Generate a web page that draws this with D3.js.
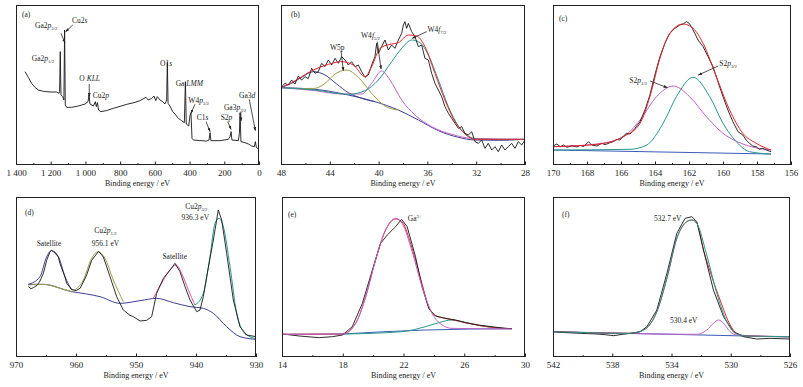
<!DOCTYPE html>
<html>
<head>
<meta charset="utf-8">
<script src="https://cdn.jsdelivr.net/npm/d3@7"></script>
<style>
  body { margin: 0; background: #fff; }
  text { font-family: "Liberation Serif", "Times New Roman", serif; fill: #222; }
</style>
</head>
<body>
<svg id="chart" width="803" height="387"></svg>
<script>
// ---- data (binding energy in eV, intensity in arbitrary units) ----

// (a) survey
var surveyA = [[1348,280],[1329,263],[1310,245],[1291,233],[1271,225],[1242,221],[1204,219],[1166,219],[1152,215],[1149,220],[1145,340],[1141,210],[1131,205],[1124,195],[1120,405],[1116,180],[1108,173],[1079,173],[1041,177],[1002,183],[985,190],[979,210],[974,183],[954,177],[943,190],[937,175],[931,187],[924,165],[912,160],[880,163],[839,170],[800,176],[762,182],[720,187],[686,193],[651,203],[638,195],[618,200],[605,207],[595,193],[586,205],[570,195],[555,190],[542,183],[532,195],[528,308],[524,185],[513,177],[497,160],[484,153],[465,140],[446,133],[430,127],[424,250],[419,123],[405,117],[397,150],[392,157],[386,80],[378,75],[340,73],[301,72],[288,75],[282,97],[277,73],[225,73],[177,77],[167,85],[161,100],[156,75],[119,73],[113,95],[109,157],[104,70],[81,67],[61,63],[42,57],[27,55],[21,70],[15,52],[0,48]];

// (b) W 4f / W 5p
var dataB = [[48.00,233],[47.67,245],[47.40,240],[47.13,255],[46.85,243],[46.58,267],[46.31,255],[46.03,265],[45.76,259],[45.49,290],[45.21,275],[44.94,280],[44.67,305],[44.39,295],[44.12,315],[43.85,300],[43.57,320],[43.30,305],[43.03,325],[42.75,315],[42.48,300],[42.21,310],[41.93,295],[41.66,300],[41.39,280],[41.11,263],[40.84,270],[40.57,300],[40.30,325],[40.16,365],[40.02,335],[39.75,355],[39.48,375],[39.20,345],[38.93,360],[38.66,350],[38.38,375],[38.11,395],[37.97,420],[37.84,430],[37.70,410],[37.56,425],[37.29,400],[37.02,385],[36.74,355],[36.47,360],[36.20,320],[35.92,315],[35.65,275],[35.38,245],[35.10,225],[34.83,205],[34.56,175],[34.28,155],[34.01,140],[33.74,125],[33.46,110],[33.19,115],[32.92,95],[32.64,90],[32.37,100],[32.10,70],[31.83,65],[31.55,75],[31.28,50],[31.01,65],[30.73,45],[30.46,55],[30.19,40],[29.91,60],[29.64,45],[29.37,55],[29.09,65],[28.82,50],[28.55,70],[28.27,60],[28.00,75]];
var envB = [[48,232],[47.13,247],[45.35,285],[44.12,302],[43.03,310],[42.07,300],[41.11,265],[40.57,295],[39.89,350],[39.07,362],[38.38,367],[37.56,390],[36.88,387],[36.20,355],[35.38,275],[34.56,195],[33.74,130],[32.92,93],[32.10,77],[28.00,77]];
var backB = [[48,232],[45.21,227],[42.48,210],[40.30,190],[38.38,165],[36.74,135],[35.10,103],[33.46,83],[32.10,75],[30.19,74],[28.00,77]];
var w5p32B = [[48,233],[47.13,245],[46.31,263],[45.35,280],[44.39,270],[43.44,243],[42.48,217],[41.39,200],[40.30,190]];
var w5pB = [[46.58,229],[45.21,230],[44.39,245],[43.57,273],[42.62,285],[41.66,263],[40.57,215],[39.48,177],[38.38,165]];
var w4f52B = [[48,232],[45.21,223],[43.03,213],[41.39,213],[40.57,245],[39.75,282],[39.07,255],[38.11,195],[37.02,150],[35.65,115],[34.01,92],[32.37,80],[28.00,77]];
var w4f72B = [[48,232],[45.21,225],[42.48,212],[41.11,223],[40.02,255],[38.93,310],[38.11,350],[37.29,375],[36.61,367],[35.92,330],[35.10,255],[34.28,175],[33.46,117],[32.64,87],[31.83,77],[28.00,77]];

// (c) S 2p
var dataC = [[170.00,57],[169.77,63],[169.57,55],[169.38,60],[169.18,53],[168.89,58],[168.59,54],[168.40,59],[168.20,55],[167.91,70],[167.72,60],[167.42,57],[167.13,65],[166.93,61],[166.64,67],[166.45,70],[166.25,77],[166.06,75],[165.86,87],[165.67,95],[165.47,93],[165.18,110],[164.88,130],[164.59,165],[164.30,210],[164.01,270],[163.71,325],[163.42,365],[163.13,395],[162.83,410],[162.54,420],[162.35,423],[162.15,430],[161.99,425],[161.86,415],[161.66,395],[161.47,375],[161.17,355],[160.88,325],[160.59,295],[160.30,250],[160.00,205],[159.71,165],[159.42,130],[159.12,100],[158.83,90],[158.64,75],[158.44,65],[158.25,57],[158.05,55],[157.86,47],[157.66,50],[157.46,45],[157.17,40]];
var envC = [[170,55],[167.42,62],[165.86,85],[164.88,125],[164.30,205],[163.71,320],[163.13,395],[162.35,423],[161.76,410],[161.17,365],[160.39,265],[159.61,165],[158.83,95],[158.05,65],[157.17,45]];
var backC = [[170,45],[157.17,33]];
var s2p32C = [[170,45],[165.47,47],[164.49,60],[163.52,125],[162.74,205],[161.76,263],[160.78,205],[160.00,125],[159.22,70],[158.44,40],[157.17,33]];
var s2p12C = [[170,55],[167.42,63],[165.86,85],[164.88,135],[163.91,205],[162.93,237],[161.96,205],[160.98,145],[160.00,95],[158.83,63],[157.17,45]];

// (d) Cu 2p
var dataD = [[967.94,211],[967.5,205],[967.11,208],[966.5,215],[966.0,228],[965.44,251],[964.89,290],[964.33,316],[964.06,320],[963.5,312],[962.94,300],[962.67,280],[961.83,240],[961.56,221],[960.72,203],[960.0,199],[959.33,206],[958.78,225],[958.22,246],[957.39,290],[956.28,316],[956.0,312],[955.44,300],[954.33,241],[953.22,181],[952.11,141],[951.0,125],[950.44,121],[949.33,108],[948.22,110],[947.39,121],[946.56,191],[945.44,236],[944.33,261],[943.5,281],[942.67,256],[941.83,211],[941.0,171],[939.89,136],[939.33,141],[938.78,181],[938.22,241],[937.11,351],[936.28,441],[935.72,411],[934.89,311],[933.78,171],[932.67,91],[931.56,66],[930.0,61]];
var backD = [[967.94,218],[965.44,218],[960.72,196],[958.22,189],[956.0,181],[952.67,161],[949.33,169],[946.56,176],[943.78,163],[941.0,151],[938.78,146],[937.11,131],[934.89,91],[932.67,61],[930.0,53]];
var backOliveD = [[967.94,216],[965.44,218],[962.67,206],[960.72,196]];
var sat1D = [[967.94,218],[966.0,241],[964.89,301],[964.06,319],[962.94,301],[961.83,241],[960.72,201]];
var cu2p12D = [[960.72,196],[958.78,231],[957.39,296],[956.28,316],[955.17,296],[953.78,231],[952.11,166]];
var sat2D = [[947.11,176],[945.44,231],[944.33,261],[943.33,276],[942.39,251],[941.28,201],[940.17,156]];
var cu2p32D = [[940.17,156],[938.78,191],[937.67,301],[936.83,401],[936.17,416],[935.44,391],[934.33,271],[933.22,131],[932.11,76],[931.0,61],[930.0,55]];

// (e) Ga 3d
var dataE = [[14.04,69],[15.14,63],[16.45,58],[17.32,61],[17.98,66],[18.63,91],[19.29,161],[19.95,261],[20.49,341],[20.93,366],[21.48,391],[21.87,413],[22.24,391],[22.79,301],[23.22,211],[23.66,146],[24.10,123],[24.75,116],[25.41,111],[26.07,103],[26.94,96],[27.81,91],[28.69,86],[29.13,85]];
var envE = [[14.04,68],[17.98,69],[18.85,101],[19.51,181],[20.16,291],[20.82,381],[21.48,414],[21.91,405],[22.57,325],[23.22,220],[23.66,150],[24.10,125],[24.75,116],[25.41,110],[26.07,103],[26.94,95],[27.81,89],[29.13,85]];
var ga3E = [[14.04,68],[17.98,69],[18.85,101],[19.51,181],[20.16,291],[20.82,381],[21.48,416],[21.91,401],[22.57,316],[23.22,211],[23.88,131],[24.54,96],[25.19,86],[29.13,84]];
var shoulderE = [[14.04,68],[17.98,69],[21.91,76],[23.44,91],[24.32,103],[25.19,111],[26.07,104],[27.16,93],[28.25,87],[29.13,85]];
var backE = [[17.98,69],[23.44,81],[29.13,85]];

// (f) O 1s
var dataF = [[542.00,76],[541.1,73],[540.16,71],[539.6,70],[539.03,69],[538.5,67],[537.91,64],[537.3,68],[536.79,71],[536.11,76],[535.66,91],[534.99,141],[534.31,251],[533.64,371],[533.08,416],[532.63,421],[532.29,406],[531.84,321],[531.17,201],[530.49,121],[529.82,76],[529.15,61],[528.25,54],[527.35,56],[526.00,54]];
var envF = [[542,76],[536.79,71],[535.89,81],[534.99,136],[534.31,236],[533.64,356],[532.97,406],[532.63,411],[532.29,401],[531.84,321],[531.28,241],[530.72,171],[530.04,96],[529.60,71],[528.92,63],[526,61]];
var o532F = [[542,76],[536.79,71],[535.89,81],[534.99,136],[534.31,236],[533.64,356],[532.97,406],[532.63,411],[532.29,401],[531.62,306],[530.94,191],[530.27,106],[529.60,69],[528.92,63],[526,61]];
var o530F = [[542,76],[532.29,68],[531.62,81],[531.17,101],[530.83,111],[530.49,101],[530.04,76],[529.60,66],[526,61]];
var backF = [[542,76],[526,60]];

// tick values
var ticksA = [1400, 1200, 1000, 800, 600, 400, 200, 0];
var ticksB = [48, 44, 40, 36, 32, 28];
var ticksC = [170, 168, 166, 164, 162, 160, 158, 156];
var ticksD = [970, 960, 950, 940, 930];
var ticksE = [14, 18, 22, 26, 30];
var ticksF = [542, 538, 534, 530, 526];

// annotations: text parts, energy, intensity
var I = "i", SUB = "sub", SUP = "sup";
var labelsA = [
  {t: [["Ga2"], ["p", I], ["3/2", SUB]], e: 1290, v: 411},
  {t: [["Cu2"], ["s", I]], e: 1077, v: 426},
  {t: [["Ga2"], ["p", I], ["1/2", SUB]], e: 1309, v: 312},
  {t: [["O "], ["KLL", I]], e: 1035, v: 252},
  {t: [["Cu2"], ["p", I]], e: 958, v: 200},
  {t: [["O1"], ["s", I]], e: 570, v: 298},
  {t: [["Ga "], ["LMM", I]], e: 480, v: 237},
  {t: [["W4"], ["p", I], ["3/2", SUB]], e: 407, v: 187},
  {t: [["C1"], ["s", I]], e: 359, v: 135},
  {t: [["S2"], ["p", I]], e: 221, v: 135},
  {t: [["Ga3"], ["p", I], ["3/2", SUB]], e: 202, v: 165},
  {t: [["Ga3"], ["d", I]], e: 115, v: 202}
];
var arrowsA = [[1073, 420, 1114, 400], [1141, 395, 1118, 367], [978, 243, 978, 205], [369, 182, 392, 155], [305, 130, 282, 100], [180, 130, 161, 107], [104, 159, 104, 132], [56, 197, 21, 103]];
var labelsB = [
  {t: [["W5p"]], e: 43.98, v: 346},
  {t: [["W4"], ["f", I], ["5/2", SUB]], e: 41.44, v: 381},
  {t: [["W4"], ["f", I], ["7/2", SUB]], e: 36.0, v: 398}
];
var arrowsB = [[43.08, 343, 42.89, 283], [40.11, 370, 39.80, 288], [36.06, 400, 37.24, 380]];
var labelsC = [
  {t: [["S2"], ["p", I], ["1/2", SUB]], e: 165.51, v: 246},
  {t: [["S2"], ["p", I], ["3/2", SUB]], e: 160.22, v: 296}
];
var arrowsC = [[164.29, 252, 163.28, 232], [160.28, 297, 161.45, 270]];
var labelsD = [
  {t: [["Satellite"]], e: 966.55, v: 334},
  {t: [["Cu2"], ["p", I], ["1/2", SUB]], e: 956.95, v: 372},
  {t: [["956.1 eV"]], e: 957.39, v: 333},
  {t: [["Satellite"]], e: 945.6, v: 294},
  {t: [["Cu2"], ["p", I], ["3/2", SUB]], e: 941.8, v: 444},
  {t: [["936.3 eV"]], e: 942.4, v: 412}
];
var labelsE = [
  {t: [["Ga"], ["3+", SUP]], e: 22.28, v: 408}
];
var labelsF = [
  {t: [["532.7 eV"]], e: 535.18, v: 408},
  {t: [["530.4 eV"]], e: 534.1, v: 102}
];

// ---- drawing ----
var col = {data: "#161616", env: "#e3262b", teal: "#28988e", mag: "#c162c8", olive: "#9d9c4a",
           navy: "#3c3f93", blue: "#3a5cba", pink: "#e2559c"};

var svg = d3.select("#chart");
var defs = svg.append("defs");
defs.append("marker").attr("id", "arr")
  .attr("viewBox", "0 0 10 10").attr("refX", 9).attr("refY", 5)
  .attr("markerWidth", 5).attr("markerHeight", 5).attr("orient", "auto")
  .append("path").attr("d", "M0,1.5 L10,5 L0,8.5 Z").attr("fill", "#222");

var fmtA = function(d) { return d >= 1000 ? d3.format("d")(d).replace(/(\d)(\d{3})$/, "$1 $2") : d; };

// layout: frame box and where the panel letter sits (absolute baseline)
var panels = [
  {name: "(a)", x0: 16, x1: 259, y0: 5, y1: 165, dom: [1400, 0], ticks: ticksA, minor: 100, fmt: fmtA, lx: 22, ly: 16.5,
   series: [{d: surveyA, c: col.data, raw: true}], labels: labelsA, arrows: arrowsA},
  {name: "(b)", x0: 281, x1: 525, y0: 5, y1: 165, dom: [48, 28], ticks: ticksB, minor: 2, lx: 291, ly: 17,
   series: [{d: backB, c: col.navy}, {d: w5p32B, c: col.navy}, {d: w5pB, c: col.olive}, {d: w4f52B, c: col.mag},
            {d: w4f72B, c: col.teal}, {d: dataB, c: col.data, raw: true}, {d: envB, c: col.env}],
   labels: labelsB, arrows: arrowsB},
  {name: "(c)", x0: 553, x1: 791, y0: 5, y1: 165, dom: [170, 156], ticks: ticksC, minor: 1, lx: 559, ly: 21,
   series: [{d: backC, c: col.blue}, {d: s2p12C, c: col.mag}, {d: s2p32C, c: col.teal},
            {d: dataC, c: col.data, raw: true}, {d: envC, c: col.env}],
   labels: labelsC, arrows: arrowsC},
  {name: "(d)", x0: 16, x1: 256, y0: 197, y1: 357, dom: [970, 930], ticks: ticksD, minor: 5, lx: 25, ly: 215,
   series: [{d: backD, c: col.navy}, {d: backOliveD, c: col.olive}, {d: sat1D, c: col.navy}, {d: cu2p12D, c: col.olive},
            {d: sat2D, c: col.pink}, {d: cu2p32D, c: col.teal}, {d: dataD, c: col.data, raw: true}],
   labels: labelsD, arrows: []},
  {name: "(e)", x0: 282, x1: 525, y0: 197, y1: 357, dom: [14, 30], ticks: ticksE, minor: 2, lx: 288, ly: 217,
   series: [{d: backE, c: col.blue}, {d: shoulderE, c: col.teal}, {d: envE, c: col.env},
            {d: dataE, c: col.data, raw: true}, {d: ga3E, c: col.mag}],
   labels: labelsE, arrows: []},
  {name: "(f)", x0: 553, x1: 790, y0: 197, y1: 357, dom: [542, 526], ticks: ticksF, minor: 2, lx: 562, ly: 217,
   series: [{d: backF, c: col.blue}, {d: o530F, c: col.mag}, {d: envF, c: col.env},
            {d: dataF, c: col.data, raw: true}, {d: o532F, c: col.teal}],
   labels: labelsF, arrows: []}
];

function richText(g, x, y, parts, size) {
  var t = g.append("text").attr("x", x).attr("y", y).attr("font-size", size);
  var shift = 0;
  parts.forEach(function(p) {
    var s = t.append("tspan").text(p[0]);
    var st = p[1] || "";
    if (st === I) s.attr("font-style", "italic");
    var target = st === SUB ? 2 : st === SUP ? -3 : 0;
    if (target !== shift) s.attr("dy", target - shift);
    if (target !== 0) s.attr("font-size", size * 0.62);
    shift = target;
  });
  return t;
}

panels.forEach(function(p, i) {
  var g = svg.append("g");
  var x = d3.scaleLinear().domain(p.dom).range([p.x0, p.x1]);
  // intensity unit: 3 a.u. per pixel, zero at the frame bottom
  var y = d3.scaleLinear().domain([0, 3 * (p.y1 - p.y0)]).range([p.y1, p.y0]);

  var clipId = "clip" + i;
  defs.append("clipPath").attr("id", clipId).append("rect")
    .attr("x", p.x0).attr("y", p.y0).attr("width", p.x1 - p.x0).attr("height", p.y1 - p.y0);

  var plot = g.append("g").attr("clip-path", "url(#" + clipId + ")");
  p.series.forEach(function(s) {
    var line = d3.line()
      .x(function(d) { return x(d[0]); })
      .y(function(d) { return y(d[1]); })
      .curve(s.raw ? d3.curveLinear : d3.curveMonotoneX);
    plot.append("path").datum(s.d)
      .attr("d", line)
      .attr("fill", "none")
      .attr("stroke", s.c)
      .attr("stroke-width", s.raw ? 0.9 : 1)
      .attr("stroke-linejoin", "round");
  });

  // minor ticks
  var lo = Math.min(p.dom[0], p.dom[1]), hi = Math.max(p.dom[0], p.dom[1]);
  var minorVals = d3.range(lo, hi + 1e-9, p.minor).filter(function(v) { return p.ticks.indexOf(v) < 0; });
  g.append("g").attr("transform", "translate(0," + p.y1 + ")")
    .call(d3.axisBottom(x).tickValues(minorVals).tickSize(-2).tickFormat(""))
    .call(function(a) { a.select(".domain").remove(); a.selectAll("line").attr("stroke", "#222"); });

  var axis = g.append("g").attr("transform", "translate(0," + p.y1 + ")")
    .call(d3.axisBottom(x).tickValues(p.ticks).tickSize(-3.5).tickPadding(5).tickFormat(p.fmt || d3.format("d")));
  axis.attr("font-family", null).attr("font-size", null);
  axis.select(".domain").remove();
  axis.selectAll("line").attr("stroke", "#222");
  axis.selectAll("text").attr("font-size", 9).attr("fill", "#222");

  g.append("rect")
    .attr("x", p.x0 + 0.5).attr("y", p.y0 + 0.5)
    .attr("width", p.x1 - p.x0 - 1).attr("height", p.y1 - p.y0 - 1)
    .attr("fill", "none").attr("stroke", "#222").attr("stroke-width", 1);

  g.append("text")
    .attr("x", (p.x0 + p.x1) / 2).attr("y", p.y1 + 21)
    .attr("text-anchor", "middle").attr("font-size", 8)
    .text("Binding energy / eV");

  g.append("text").attr("x", p.lx).attr("y", p.ly)
    .attr("font-size", 7.5).text(p.name);

  p.labels.forEach(function(l) {
    richText(g, x(l.e), y(l.v), l.t, 7.5);
  });
  p.arrows.forEach(function(a) {
    g.append("line")
      .attr("x1", x(a[0])).attr("y1", y(a[1]))
      .attr("x2", x(a[2])).attr("y2", y(a[3]))
      .attr("stroke", "#222").attr("stroke-width", 0.8)
      .attr("marker-end", "url(#arr)");
  });
});
</script>
</body>
</html>
